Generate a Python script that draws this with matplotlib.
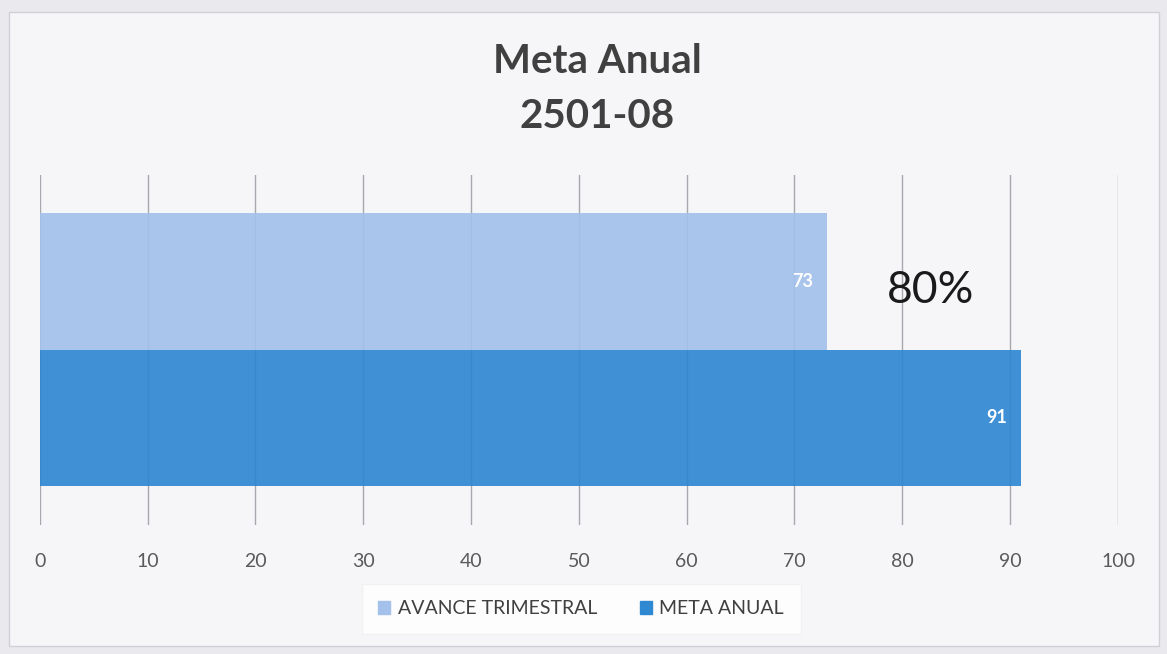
import matplotlib
matplotlib.use("Agg")
import matplotlib.pyplot as plt
from matplotlib.patches import Rectangle

categories = ["AVANCE TRIMESTRAL", "META ANUAL"]
values = [73, 91]
colors = ["#a3c1eb", "#2f88d2"]
xticks = [0, 10, 20, 30, 40, 50, 60, 70, 80, 90, 100]
title = "Meta Anual\n2501-08"
annotation = "80%"

plt.rcParams['font.family'] = ['Lato', 'DejaVu Sans']

fig = plt.figure(figsize=(11.67, 6.54), dpi=100)
fig.patch.set_facecolor("#e9e9ee")
# chart area background
fig.patches.append(Rectangle((0.008, 0.012), 0.985, 0.97, transform=fig.transFigure,
                             facecolor="#f6f6f8", edgecolor="#d0d0d6", lw=1, zorder=-5))

ax = fig.add_axes([0.034, 0.197, 0.924, 0.535])
ax.set_zorder(2)
ax.set_facecolor("none")

# y positions: AVANCE on top (1), META below (0)
ypos = [1, 0]
for y, v, c in zip(ypos, values, colors):
    ax.barh(y, v, height=1.0, color=c, alpha=0.92, zorder=2)
    ax.text(v - 1.3, y, str(v), ha="right", va="center", color="white",
            fontsize=13, fontweight="bold", zorder=3)

ax.set_xlim(0, 100)
ax.set_ylim(-0.79, 1.78)
ax.set_xticks(xticks)
ax.xaxis.grid(True, color="#a8a8b0", lw=1.0, zorder=1)
ax.set_axisbelow(True)
ax.set_yticks([])
for s in ax.spines.values():
    s.set_visible(False)
ax.tick_params(axis="x", length=0, pad=20, labelsize=14, labelcolor="#5a5a5a")

ax.text(82.6, 0.93, annotation, ha="center", va="center", fontsize=32,
        color="#1a1a1a", zorder=4)

fig.text(0.512, 0.864, title, ha="center", va="center", fontsize=29,
         fontweight="bold", color="#404040", linespacing=1.6)

handles = [Rectangle((0, 0), 1, 1, color=c) for c in colors]
leg = fig.legend(handles, categories, loc="center", bbox_to_anchor=(0.498, 0.069),
                 ncol=2, frameon=True, fontsize=14, handlelength=0.6, handleheight=0.6,
                 handletextpad=0.4, columnspacing=2.2, borderpad=0.55, borderaxespad=0)
leg.get_frame().set_facecolor("white")
leg.get_frame().set_edgecolor("#f0f0f0")
leg.get_frame().set_boxstyle("square")
for t in leg.get_texts():
    t.set_color("#404040")

fig.savefig("out.png", dpi=100, facecolor=fig.get_facecolor())
